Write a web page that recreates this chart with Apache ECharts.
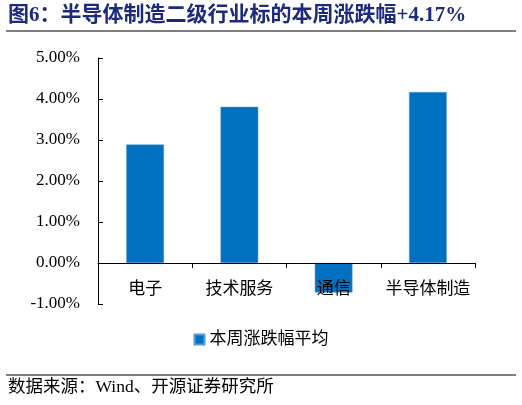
<!DOCTYPE html>
<html><head><meta charset="utf-8">
<script src="https://cdn.jsdelivr.net/npm/echarts@6/dist/echarts.min.js"></script>
<style>html,body{margin:0;padding:0;background:#fff}#c{width:522px;height:405px}</style>
</head><body><div id="c"></div>
<script>
const categories = ['电子', '技术服务', '通信', '半导体制造'];
const values = [2.89, 3.81, -0.72, 4.17];
const seriesName = '本周涨跌幅平均';
const titleText = '图6：半导体制造二级行业标的本周涨跌幅+4.17%';
const sourceText = '数据来源：Wind、开源证券研究所';
const FONT = '"Liberation Serif", "Noto Sans CJK SC", serif';
const chart = echarts.init(document.getElementById('c'));
chart.setOption({
  animation: false,
  textStyle: {fontFamily: FONT},
  grid: {left: 98, right: 47, top: 58, bottom: 101},
  legend: {
    data: [seriesName], bottom: 52, left: 'center', itemWidth: 10, itemHeight: 10, itemGap: 6,
    icon: 'rect', textStyle: {fontSize: 17, color: '#000', fontFamily: FONT}
  },
  xAxis: {
    type: 'category', data: categories,
    axisLine: {onZero: true, lineStyle: {color: '#000', width: 1}},
    axisTick: {show: true, length: 5, inside: false, lineStyle: {color: '#000'}},
    axisLabel: {fontSize: 17, color: '#000', margin: -23, interval: 0, fontFamily: FONT},
    z: 10
  },
  yAxis: {
    type: 'value', min: -1, max: 5, interval: 1,
    splitLine: {show: false},
    axisLine: {show: true, lineStyle: {color: '#000'}},
    axisTick: {show: true, inside: true, length: 5, lineStyle: {color: '#000'}},
    axisLabel: {fontSize: 17, color: '#000', margin: 18, fontFamily: FONT,
      formatter: v => v.toFixed(2) + '%'}
  },
  series: [{
    name: seriesName, type: 'bar', data: values, barWidth: '40%',
    itemStyle: {color: '#0070C0', borderColor: '#5B9BD5', borderWidth: 0.5}
  }],
  graphic: [
    {type: 'text', left: 8, top: 5, style: {text: titleText, fill: '#1C2A7E', font: 'bold 21px ' + FONT}},
    {type: 'line', shape: {x1: 6, y1: 31, x2: 516, y2: 31}, style: {stroke: '#000', lineWidth: 1}},
    {type: 'line', shape: {x1: 6, y1: 375, x2: 516, y2: 375}, style: {stroke: '#000', lineWidth: 1}},
    {type: 'text', left: 8, top: 379, style: {text: sourceText, fill: '#000', font: '17.5px ' + FONT}}
  ]
});
</script></body></html>
